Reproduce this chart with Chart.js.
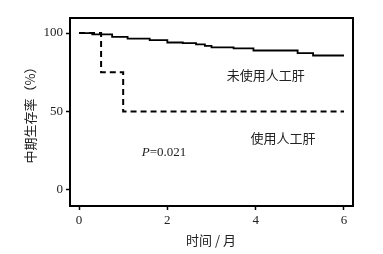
<!DOCTYPE html>
<html lang="zh">
<head>
<meta charset="UTF-8">
<title>中期生存率</title>
<script src="https://cdn.jsdelivr.net/npm/chart.js"></script>
<style>
  html, body { margin: 0; padding: 0; background: #fff; }
  #wrap { width: 383px; height: 254px; }
</style>
</head>
<body>
<div id="wrap"><canvas id="km"></canvas></div>
<script>
// 未使用人工肝 (solid)
const noLiverX = [0, 0.3, 0.75, 1.1, 1.6, 2.0, 2.35, 2.65, 2.85, 3.0, 3.5, 3.95, 4.95, 5.3, 6.0];
const noLiverY = [100, 99.2, 97.6, 96.4, 95.5, 94.0, 93.6, 92.8, 91.8, 90.9, 90.2, 88.9, 87.2, 85.7, 85.7];
// 使用人工肝 (dashed)
const liverX = [0, 0.5, 1.0, 6.0];
const liverY = [100, 75, 50, 50];
const xTicks = [0, 2, 4, 6];
const yTicks = [0, 50, 100];

const serif = '"Liberation Serif", "DejaVu Serif", serif';
const cjk = '"Noto Sans CJK SC", sans-serif';

// frame + annotations
const extras = {
  id: 'extras',
  afterDraw(chart) {
    const { ctx, chartArea: a, scales: { x, y } } = chart;
    ctx.save();
    ctx.strokeStyle = '#000';
    ctx.lineWidth = 2;
    ctx.strokeRect(a.left, a.top, a.right - a.left, a.bottom - a.top);

    ctx.fillStyle = '#222';
    ctx.textAlign = 'center';
    ctx.textBaseline = 'middle';
    ctx.font = '13px ' + cjk;
    ctx.fillText('未使用人工肝', x.getPixelForValue(4.23), y.getPixelForValue(73));
    ctx.fillText('使用人工肝', x.getPixelForValue(4.62), y.getPixelForValue(33));

    // P=0.021
    ctx.textAlign = 'left';
    let px = x.getPixelForValue(1.42), py = y.getPixelForValue(24);
    ctx.font = 'italic 13px ' + serif;
    ctx.fillText('P', px, py);
    px += ctx.measureText('P').width;
    ctx.font = '13px ' + serif;
    ctx.fillText('=0.021', px, py);

    // axis titles
    ctx.textAlign = 'center';
    ctx.font = '13px ' + cjk;
    ctx.fillText('时间 / 月', 211, 240);
    ctx.translate(30, 112);
    ctx.rotate(-Math.PI / 2);
    ctx.fillText('中期生存率（%）', 0, 0);
    ctx.restore();
  }
};

new Chart(document.getElementById('km'), {
  type: 'line',
  data: {
    datasets: [
      {
        label: '未使用人工肝',
        data: noLiverX.map((v, i) => ({ x: v, y: noLiverY[i] })),
        borderColor: '#000',
        borderWidth: 1.8,
        stepped: true,
        pointRadius: 0,
        fill: false
      },
      {
        label: '使用人工肝',
        data: liverX.map((v, i) => ({ x: v, y: liverY[i] })),
        borderColor: '#000',
        borderWidth: 2,
        borderDash: [6, 4],
        stepped: true,
        pointRadius: 0,
        fill: false
      }
    ]
  },
  options: {
    responsive: true,
    maintainAspectRatio: false,
    animation: false,
    layout: { padding: { top: 18, right: 30, left: 0, bottom: 0 } },
    plugins: { legend: { display: false }, tooltip: { enabled: false } },
    scales: {
      x: {
        type: 'linear',
        min: -0.204,
        max: 6.204,
        afterBuildTicks: s => { s.ticks = xTicks.map(v => ({ value: v })); },
        afterFit: s => { s.height = 48; },
        grid: { drawOnChartArea: false, drawTicks: true, tickLength: 4, tickColor: '#000', tickWidth: 1.5 },
        border: { display: false },
        ticks: { color: '#222', padding: 3, font: { family: serif, size: 13 } }
      },
      y: {
        min: -10.2,
        max: 109.6,
        afterBuildTicks: s => { s.ticks = yTicks.map(v => ({ value: v })); },
        afterFit: s => { s.width = 70; },
        grid: { drawOnChartArea: false, drawTicks: true, tickLength: 4, tickColor: '#000', tickWidth: 1.5 },
        border: { display: false },
        ticks: { color: '#222', padding: 3, font: { family: serif, size: 13 } }
      }
    }
  },
  plugins: [extras]
});
</script>
</body>
</html>
